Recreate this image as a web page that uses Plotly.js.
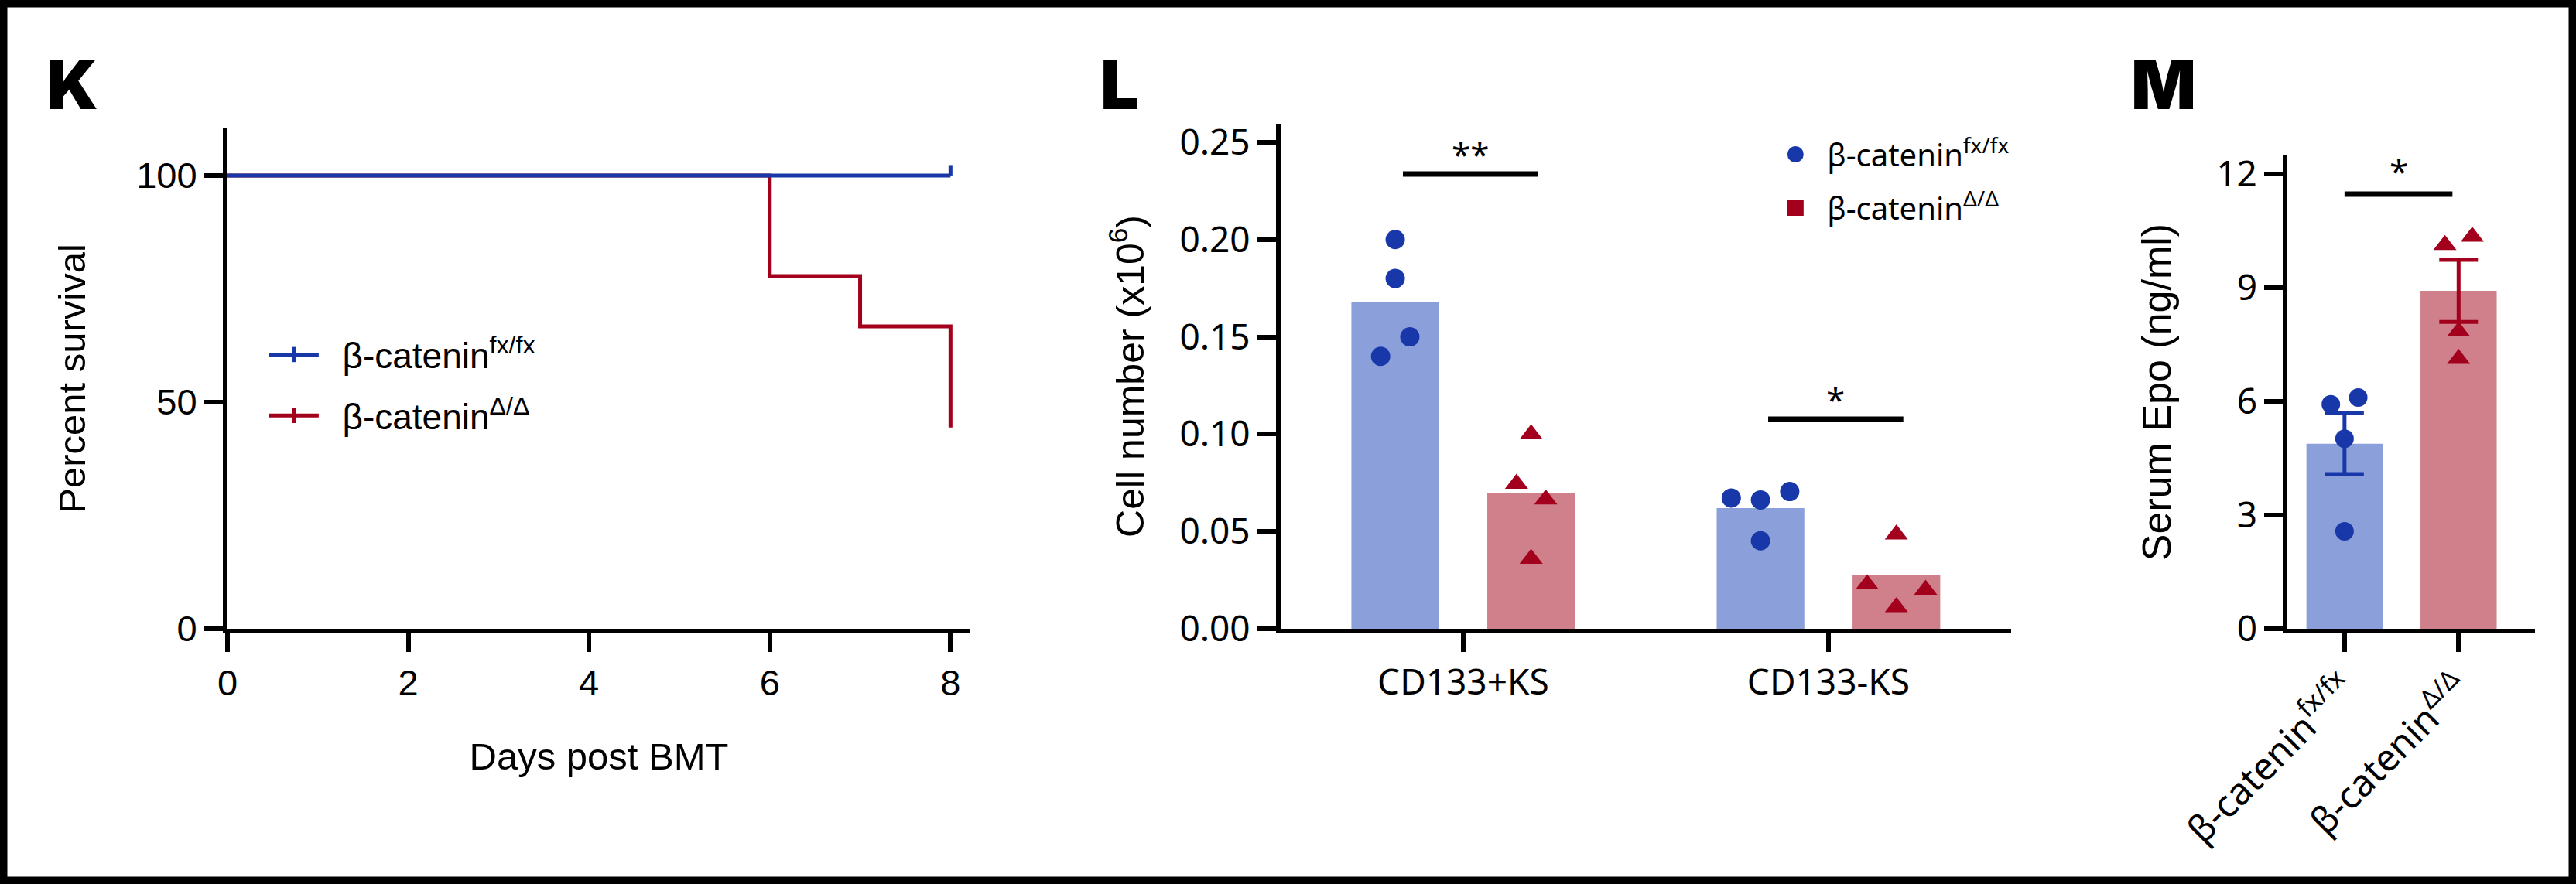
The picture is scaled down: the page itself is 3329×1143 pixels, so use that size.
<!DOCTYPE html>
<html lang="en">
<head>
<meta charset="utf-8" />
<title>β-catenin panels K-M</title>
<script src="https://cdn.plot.ly/plotly-3.0.1.min.js"></script>
<style>
  html, body { margin: 0; padding: 0; background: #fff; }
  #plot { width: 3329px; height: 1143px; }
</style>
</head>
<body>
<div id="plot"></div>
<script>
// ---- data ----
const groupNames = ['β-catenin<sup>fx/fx</sup>', 'β-catenin<sup>Δ/Δ</sup>'];

// K: Kaplan-Meier survival (days post BMT)
const kmFloxDays = [0, 8];
const kmFloxSurv = [100, 100];
const kmFloxCensor = [0, 2.3];          // censor tick at last point
const kmDeltaDays = [0, 6, 7, 8];
const kmDeltaSurv = [100, 77.8, 66.7, 44.4];
const kmTicksX = [0, 2, 4, 6, 8];
const kmTicksY = [0, 50, 100];

// L: cell number (x10^6)
const cellCats = ['CD133+KS', 'CD133-KS'];
const cellMeanFlox = [0.168, 0.062];
const cellMeanDelta = [0.0696, 0.0274];
const cellPtsFlox = [[0.200, 0.180, 0.150, 0.140], [0.0672, 0.0662, 0.0705, 0.0452]];
const cellPtsDelta = [[0.100, 0.0745, 0.0665, 0.036], [0.0485, 0.0229, 0.0201, 0.0111]];
const cellSigText = ['**', '*'];
const cellSigY = [0.2337, 0.1077];
const cellTicksY = [0, 0.05, 0.10, 0.15, 0.20, 0.25];

// M: serum Epo (ng/ml)
const epoMean = [4.88, 8.91];
const epoSem = [0.80, 0.82];
const epoFlox = [5.92, 6.10, 5.01, 2.57];
const epoDelta = [10.12, 10.34, 7.84, 7.12];
const epoSigText = '*';
const epoSigY = 11.46;
const epoTicksY = [0, 3, 6, 9, 12];

// horizontal scatter of the dots inside each bar (category units)
const cellJitterFlox = [[0, 0, 0.04, -0.04], [-0.08, 0, 0.08, 0]];
const cellJitterDelta = [[0, -0.04, 0.04, 0], [0, -0.08, 0.08, 0]];
const epoJitter = [-0.12, 0.12, 0, 0];

// ---- styles ----
const BLUE = '#1838a9', RED = '#a3001d';
const BLUE_BAR = '#8ba0da', RED_BAR = '#d0808a';
const NARROW = 'Liberation Sans Narrow, Liberation Sans, Arial, sans-serif';
const GEO = 'Noto Sans, Open Sans, sans-serif';
const LW = 6;
const PAD = '\u00a0\u00a0';   // gap between legend symbol and label

const cellBarW = 0.24, cellOffFlox = -0.306, cellOffDelta = 0.066;
const cellCenterFlox = cellOffFlox + cellBarW / 2;
const cellCenterDelta = cellOffDelta + cellBarW / 2;

function spread(points, jitter, center) {
  const xs = [], ys = [];
  points.forEach(function (grp, i) {
    grp.forEach(function (v, j) {
      xs.push(i + center + jitter[i][j]);
      ys.push(v);
    });
  });
  return {x: xs, y: ys};
}
const flox = spread(cellPtsFlox, cellJitterFlox, cellCenterFlox);
const delta = spread(cellPtsDelta, cellJitterDelta, cellCenterDelta);

const traces = [
  // K
  {x: kmDeltaDays, y: kmDeltaSurv, mode: 'lines', line: {shape: 'hv', color: RED, width: 5},
   xaxis: 'x', yaxis: 'y', showlegend: false},
  {x: kmFloxDays, y: kmFloxSurv, mode: 'lines', line: {color: BLUE, width: 5},
   error_y: {type: 'data', symmetric: false, array: kmFloxCensor, arrayminus: [0, 0],
             width: 0, thickness: 5, color: BLUE},
   xaxis: 'x', yaxis: 'y', showlegend: false},
  {x: [null], y: [null], mode: 'lines+markers', name: PAD + groupNames[0], legend: 'legend', legendgroup: 'a',
   line: {color: BLUE, width: 5},
   marker: {symbol: 'line-ns-open', size: 14, color: BLUE, line: {color: BLUE, width: 5}},
   xaxis: 'x', yaxis: 'y'},
  {x: [null], y: [null], mode: 'lines+markers', name: PAD + groupNames[1], legend: 'legend', legendgroup: 'b',
   line: {color: RED, width: 5},
   marker: {symbol: 'line-ns-open', size: 14, color: RED, line: {color: RED, width: 5}},
   xaxis: 'x', yaxis: 'y'},

  // L
  {type: 'bar', x: [0, 1], y: cellMeanFlox, width: cellBarW, offset: cellOffFlox,
   marker: {color: BLUE_BAR}, xaxis: 'x2', yaxis: 'y2', showlegend: false},
  {type: 'bar', x: [0, 1], y: cellMeanDelta, width: cellBarW, offset: cellOffDelta,
   marker: {color: RED_BAR}, xaxis: 'x2', yaxis: 'y2', showlegend: false},
  {x: flox.x, y: flox.y, mode: 'markers', marker: {symbol: 'circle', size: 25, color: BLUE},
   xaxis: 'x2', yaxis: 'y2', showlegend: false},
  {x: delta.x, y: delta.y, mode: 'markers', marker: {symbol: 'triangle-up', size: 26, color: RED},
   xaxis: 'x2', yaxis: 'y2', showlegend: false},
  {x: [null], y: [null], mode: 'markers', name: PAD + groupNames[0], legend: 'legend2', legendgroup: 'c',
   marker: {symbol: 'circle', size: 16, color: BLUE, line: {color: BLUE, width: 5}},
   xaxis: 'x2', yaxis: 'y2'},
  {x: [null], y: [null], mode: 'markers', name: PAD + groupNames[1], legend: 'legend2', legendgroup: 'd',
   marker: {symbol: 'square', size: 16, color: RED, line: {color: RED, width: 5}},
   xaxis: 'x2', yaxis: 'y2'},

  // M
  {type: 'bar', x: [0], y: [epoMean[0]], width: 0.668, offset: -0.334,
   marker: {color: BLUE_BAR},
   error_y: {type: 'data', array: [epoSem[0]], color: BLUE, thickness: 5, width: 25},
   xaxis: 'x3', yaxis: 'y3', showlegend: false},
  {type: 'bar', x: [1], y: [epoMean[1]], width: 0.668, offset: -0.334,
   marker: {color: RED_BAR},
   error_y: {type: 'data', array: [epoSem[1]], color: RED, thickness: 5, width: 25},
   xaxis: 'x3', yaxis: 'y3', showlegend: false},
  {x: epoJitter.map(function (j) { return 0 + j; }), y: epoFlox, mode: 'markers',
   marker: {symbol: 'circle', size: 24, color: BLUE}, xaxis: 'x3', yaxis: 'y3', showlegend: false},
  {x: epoJitter.map(function (j) { return 1 + j; }), y: epoDelta, mode: 'markers',
   marker: {symbol: 'triangle-up', size: 26, color: RED}, xaxis: 'x3', yaxis: 'y3', showlegend: false}
];

function axisBase(font) {
  return {
    showline: true, linewidth: LW, linecolor: '#000',
    ticks: 'outside', ticklen: 24, tickwidth: LW, tickcolor: '#000',
    showgrid: false, zeroline: false, fixedrange: true,
    tickfont: font
  };
}

const kTick = {family: NARROW, size: 47, color: '#000'};
const geoTick = {family: GEO, size: 46, color: '#000'};
function titleFont(size) { return {family: NARROW, size: size, color: '#000'}; }

const layout = {
  width: 3329, height: 1143,
  margin: {l: 0, r: 0, t: 0, b: 0},
  paper_bgcolor: '#fff', plot_bgcolor: 'rgba(0,0,0,0)',
  barmode: 'overlay',
  showlegend: true,

  xaxis: Object.assign(axisBase(kTick), {
    domain: [0.0883, 0.3767], range: [0, 8.22], tickvals: kmTicksX, anchor: 'y',
    title: {text: 'Days post BMT', font: titleFont(49), standoff: 54}
  }),
  yaxis: Object.assign(axisBase(kTick), {
    domain: [0.2887, 0.8548], range: [0, 110.4], tickvals: kmTicksY, anchor: 'x',
    title: {text: 'Percent survival', font: titleFont(49), standoff: 52}
  }),

  xaxis2: Object.assign(axisBase(geoTick), {
    domain: [0.4971, 0.7807], range: [-0.5, 1.5], tickvals: [0, 1], ticktext: cellCats, anchor: 'y2'
  }),
  yaxis2: Object.assign(axisBase(geoTick), {
    domain: [0.2887, 0.8600], range: [0, 0.2595], tickvals: cellTicksY, tickformat: '.2f', anchor: 'x2',
    title: {text: 'Cell number (x10<sup>6</sup>)', font: titleFont(50), standoff: 32}
  }),

  xaxis3: Object.assign(axisBase(geoTick), {
    domain: [0.8880, 0.9841], range: [-0.5, 1.67], tickvals: [0, 1], ticktext: groupNames,
    tickfont: {family: GEO, size: 48, color: '#000'}, tickangle: -45, anchor: 'y3'
  }),
  yaxis3: Object.assign(axisBase(geoTick), {
    domain: [0.2887, 0.8241], range: [0, 12.48], tickvals: epoTicksY, anchor: 'x3',
    title: {text: 'Serum Epo (ng/ml)', font: titleFont(52), standoff: 44}
  }),

  legend: {
    x: 0.103, y: 0.5643, xanchor: 'left', yanchor: 'middle', xref: 'paper', yref: 'paper',
    font: {family: NARROW, size: 46, color: '#000'}, bgcolor: 'rgba(0,0,0,0)',
    itemwidth: 64, traceorder: 'grouped', tracegroupgap: 16
  },
  legend2: {
    x: 0.691, y: 0.7953, xanchor: 'left', yanchor: 'middle', xref: 'paper', yref: 'paper',
    font: {family: GEO, size: 40, color: '#000'}, bgcolor: 'rgba(0,0,0,0)',
    traceorder: 'grouped', tracegroupgap: 14
  },

  shapes: [
    {type: 'rect', xref: 'paper', yref: 'paper', x0: 0, x1: 1, y0: 0, y1: 1,
     line: {color: '#000', width: 19}}
  ],
  annotations: []
};

// panel letters
[['K', 58], ['L', 1420], ['M', 2752]].forEach(function (p) {
  layout.annotations.push({
    text: p[0], xref: 'paper', yref: 'paper', x: p[1] / 3329, y: 1 - 54 / 1143,
    xanchor: 'left', yanchor: 'top', showarrow: false,
    font: {family: 'Inter, Liberation Sans, sans-serif', size: 88, weight: 900, color: '#000'}
  });
});

// significance bars
cellSigY.forEach(function (y, i) {
  layout.shapes.push({type: 'line', xref: 'x2', yref: 'y2', x0: i - 0.165, x1: i + 0.205,
    y0: y, y1: y, line: {color: '#000', width: 7}});
  layout.annotations.push({text: cellSigText[i], xref: 'x2', yref: 'y2', x: i + 0.02, y: y,
    yanchor: 'middle', yshift: 26, showarrow: false,
    font: {family: GEO, size: 44, color: '#000'}});
});
layout.shapes.push({type: 'line', xref: 'x3', yref: 'y3', x0: 0, x1: 0.946,
  y0: epoSigY, y1: epoSigY, line: {color: '#000', width: 7}});
layout.annotations.push({text: epoSigText, xref: 'x3', yref: 'y3', x: 0.476, y: epoSigY,
  yanchor: 'middle', yshift: 30, showarrow: false,
  font: {family: GEO, size: 44, color: '#000'}});

Plotly.newPlot('plot', traces, layout, {staticPlot: true, displayModeBar: false});
</script>
</body>
</html>
